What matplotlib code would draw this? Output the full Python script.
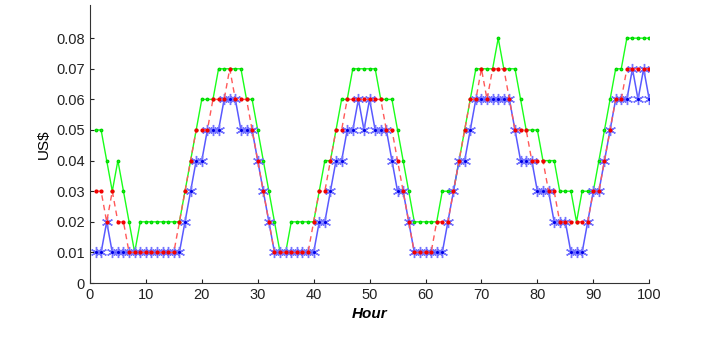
import matplotlib
matplotlib.use("Agg")
import matplotlib.pyplot as plt
import numpy as np

hours = list(range(1, 101))

green = ([0.05, 0.05, 0.04, 0.03, 0.04, 0.03, 0.02, 0.01] + [0.02] * 8 +
         [0.03, 0.04, 0.05, 0.06, 0.06, 0.06] + [0.07] * 5 +
         [0.06, 0.06, 0.05, 0.04, 0.03, 0.02, 0.01, 0.01] + [0.02] * 5 +
         [0.03, 0.04, 0.04, 0.05, 0.06, 0.06] + [0.07] * 5 + [0.06] * 3 +
         [0.05, 0.04, 0.03] + [0.02] * 5 + [0.03] * 3 + [0.04, 0.05, 0.06] +
         [0.07] * 4 + [0.08] + [0.07] * 3 + [0.06] + [0.05] * 3 + [0.04] * 3 +
         [0.03] * 3 + [0.02] + [0.03] * 3 + [0.04, 0.05, 0.06] + [0.07] * 2 +
         [0.08] * 5)

red = ([0.03, 0.03, 0.02, 0.03, 0.02, 0.02] + [0.01] * 9 + [0.02] +
       [0.03, 0.04, 0.05, 0.05, 0.05, 0.06, 0.06, 0.06, 0.07, 0.06, 0.06, 0.06,
        0.05, 0.04, 0.03, 0.02] + [0.01] * 7 +
       [0.02, 0.03, 0.03, 0.04, 0.05, 0.05] + [0.06] * 7 +
       [0.05, 0.05, 0.04, 0.03, 0.02] + [0.01] * 4 +
       [0.02, 0.02, 0.02, 0.03, 0.04, 0.05, 0.06, 0.06, 0.07, 0.06, 0.07, 0.07,
        0.07, 0.06, 0.05, 0.05, 0.05, 0.04, 0.04, 0.04, 0.03, 0.03] +
       [0.02] * 6 + [0.03, 0.03, 0.04, 0.05, 0.06, 0.06] + [0.07] * 5)

blue = ([0.01, 0.01, 0.02] + [0.01] * 13 +
        [0.02, 0.03, 0.04, 0.04, 0.05, 0.05, 0.05, 0.06, 0.06, 0.06, 0.05, 0.05,
         0.05, 0.04, 0.03, 0.02] + [0.01] * 8 +
        [0.02, 0.02, 0.03, 0.04, 0.04, 0.05, 0.05, 0.06, 0.05, 0.06, 0.05, 0.05,
         0.05, 0.04, 0.03, 0.03, 0.02] + [0.01] * 6 +
        [0.02, 0.03, 0.04, 0.04, 0.05] + [0.06] * 7 + [0.05] + [0.04] * 3 +
        [0.03] * 3 + [0.02] * 3 + [0.01] * 3 +
        [0.02, 0.03, 0.03, 0.04, 0.05, 0.06, 0.06, 0.06, 0.07, 0.06, 0.07, 0.06])

yticks = [0, 0.01, 0.02, 0.03, 0.04, 0.05, 0.06, 0.07, 0.08]
ytick_labels = ["0", "0.01", "0.02", "0.03", "0.04", "0.05", "0.06", "0.07", "0.08"]
xticks = [0, 10, 20, 30, 40, 50, 60, 70, 80, 90, 100]

plt.rcParams['font.family'] = ['Liberation Sans', 'DejaVu Sans']

fig = plt.figure(figsize=(7.08, 3.39), dpi=100)
ax = fig.add_axes([0.127, 0.165, 0.79, 0.82])

ax.plot(hours, green, color=(0.1, 1, 0.1), lw=1.0, marker='.', ms=3.5,
        markeredgecolor=(0, 0.85, 0))
ax.plot(hours, blue, color=(0.35, 0.35, 1), lw=1.1, marker=(6, 2, 0), ms=8,
        markeredgewidth=1.0, markeredgecolor=(0.45, 0.45, 1), zorder=2)
ax.plot(hours, blue, color='none', lw=0, marker='o', ms=2.2,
        markerfacecolor=(0, 0, 0.9), markeredgecolor='none', zorder=2.1)
ax.plot(hours, red, color=(1, 0.35, 0.35), lw=1.0, dashes=(4, 3),
        marker='.', ms=4, markerfacecolor=(0.95, 0, 0),
        markeredgecolor=(0.95, 0, 0), zorder=3)

ax.set_xlim(0, 100)
ax.set_ylim(0, 0.0908)
ax.set_xticks(xticks)
ax.set_yticks(yticks)
ax.set_yticklabels(ytick_labels)
ax.tick_params(direction='in', length=3, labelsize=10.5, colors='#222222')
for s in ['top', 'right']:
    ax.spines[s].set_visible(False)
for s in ['left', 'bottom']:
    ax.spines[s].set_color('#333333')

ax.set_ylabel("US$", fontsize=11)
ax.set_xlabel("Hour", fontsize=11, fontweight='bold', fontstyle='italic')

fig.savefig("out.png", dpi=100)
